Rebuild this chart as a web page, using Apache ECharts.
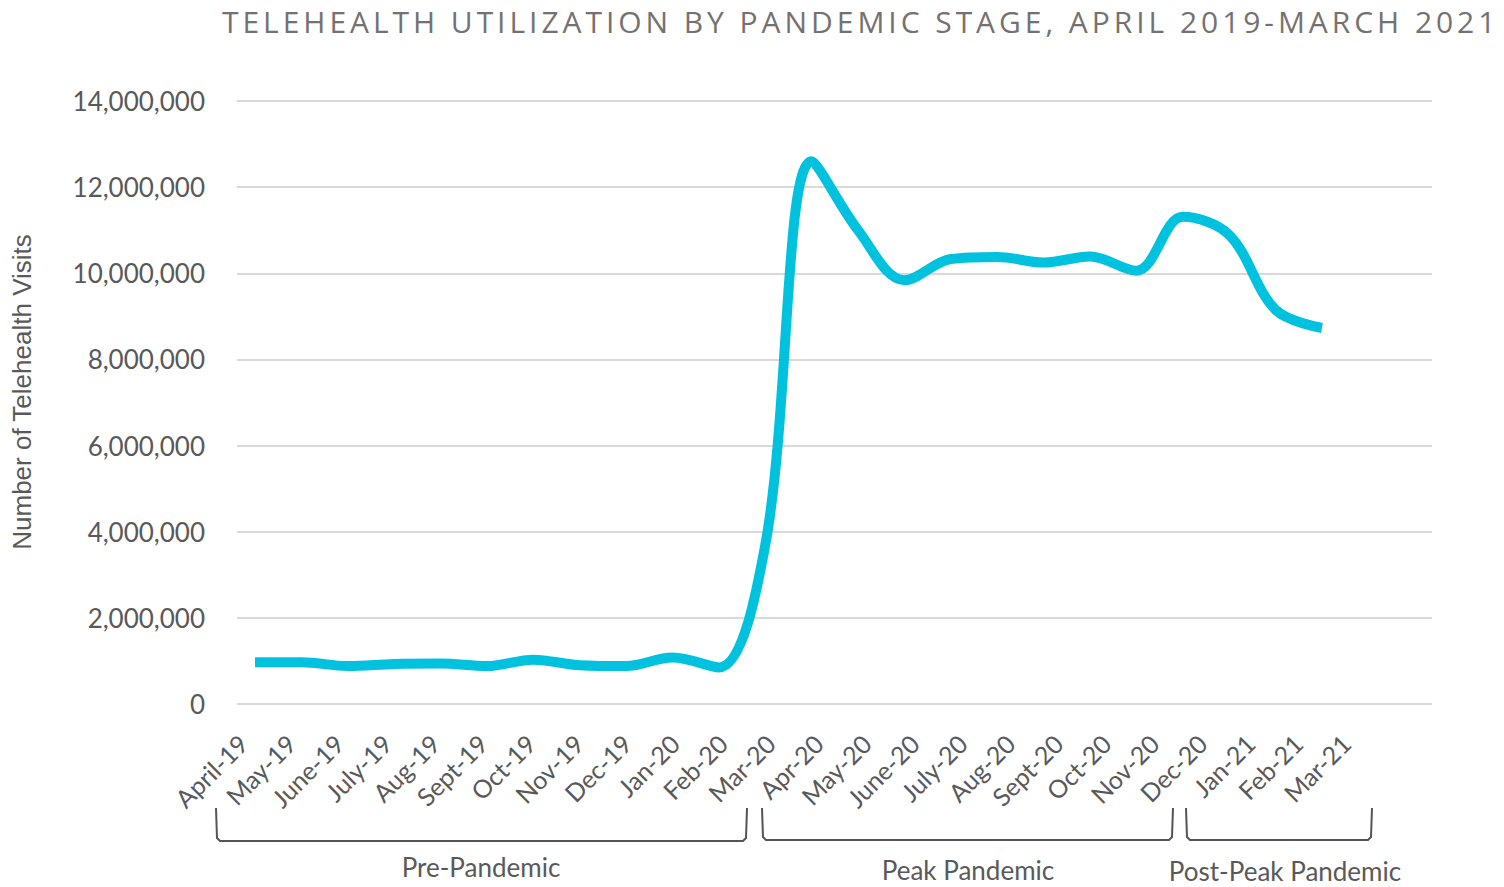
<!DOCTYPE html>
<html>
<head>
<meta charset="utf-8">
<title>Telehealth utilization</title>
<script src="https://cdn.jsdelivr.net/npm/echarts@6/dist/echarts.min.js"></script>
<style>
    html, body { margin: 0; padding: 0; background: #fff; }
    #chart_telehealth { width: 1504px; height: 887px; }
</style>
</head>
<body>
<div id="chart_telehealth"></div>
<script>
var months = ['April-19','May-19','June-19','July-19','Aug-19','Sept-19','Oct-19','Nov-19','Dec-19','Jan-20','Feb-20','Mar-20',
              'Apr-20','May-20','June-20','July-20','Aug-20','Sept-20','Oct-20','Nov-20','Dec-20','Jan-21','Feb-21','Mar-21'];
var visits = [970000, 970000, 880000, 930000, 940000, 880000, 1030000, 900000, 880000, 1080000, 850000, 3700000,
              12600000, 11000000, 9840000, 10330000, 10380000, 10250000, 10390000, 10060000, 11310000, 10890000, 9150000, 8730000];
var yMin = 0, yMax = 14000000, yStep = 2000000;
var stageNames = ['Pre-Pandemic', 'Peak Pandemic', 'Post-Peak Pandemic'];
var chartTitle = 'TELEHEALTH UTILIZATION BY PANDEMIC STAGE, APRIL 2019-MARCH 2021';

var FONT = 'Lato';
var GREY = '#595959';

// 千分位
function withCommas(v){
    var s = String(Math.round(v));
    return s.replace(/\B(?=(\d{3})+(?!\d))/g, ',');
}

// bracket under a group of months
function bracket(x1, x2, top, bottom){
    return {
        type: 'polyline',
        silent: true,
        shape: { points: [[x1, top], [x1 + 1, bottom - 3], [x1 + 4, bottom], [x2 - 4, bottom], [x2 - 1, bottom - 3], [x2, top]] },
        style: { stroke: '#555555', lineWidth: 2, fill: null }
    };
}

function stageText(txt, x, y){
    return {
        type: 'text', silent: true, x: x, y: y,
        style: { text: txt, fill: GREY, font: '26px ' + FONT, align: 'center', verticalAlign: 'middle' }
    };
}

// the title in the original is letter-spaced
function spaceTitle(){
    var nodes = document.querySelectorAll('#chart_telehealth svg text');
    for(var i=0;i<nodes.length;i++){
        if(nodes[i].textContent == chartTitle){
            nodes[i].setAttribute('letter-spacing', '3.95px');
        }
    }
}

var myChart = null;
function initChart(){
    myChart = echarts.init(document.getElementById('chart_telehealth'), null, { renderer: 'svg' });
    var option = {
        animation: false,
        backgroundColor: '#fff',
        title: {
            text: chartTitle,
            left: 217,
            top: 1,
            textStyle: { color: '#767171', fontFamily: 'Open Sans', fontSize: 30, fontWeight: 'normal' }
        },
        grid: [
            { left: 237, right: 72, top: 101, bottom: 183 },   // gridlines + y labels
            { left: 243, right: 158, top: 101, bottom: 183 },  // month labels
            { left: 255, right: 182, top: 101, bottom: 183 }   // data line
        ],
        xAxis: [
            { gridIndex: 0, type: 'category', data: months, show: false },
            {
                gridIndex: 1, type: 'category', data: months, boundaryGap: false,
                axisLine: { show: false }, axisTick: { show: false },
                axisLabel: { rotate: 45, margin: 35, interval: 0, color: GREY, fontFamily: FONT, fontSize: 25 }
            },
            { gridIndex: 2, type: 'category', data: months, boundaryGap: false, show: false }
        ],
        yAxis: [
            {
                gridIndex: 0, type: 'value', min: yMin, max: yMax, interval: yStep,
                axisLine: { show: false }, axisTick: { show: false },
                splitLine: { lineStyle: { color: '#d9d9d9', width: 2 } },
                axisLabel: { margin: 32, color: GREY, fontFamily: FONT, fontSize: 26, formatter: withCommas }
            },
            { gridIndex: 1, type: 'value', min: yMin, max: yMax, show: false },
            { gridIndex: 2, type: 'value', min: yMin, max: yMax, show: false }
        ],
        series: [
            {
                name: 'Telehealth Visits',
                type: 'line',
                xAxisIndex: 2,
                yAxisIndex: 2,
                data: visits,
                smooth: 0.35,
                symbol: 'none',
                lineStyle: { color: '#00c2df', width: 10, cap: 'butt' }
            }
        ],
        graphic: [
            {
                type: 'text', silent: true, x: 22, y: 392, rotation: Math.PI / 2,
                style: { text: 'Number of Telehealth Visits', fill: GREY, font: '26px "Liberation Sans"', align: 'center', verticalAlign: 'middle' }
            },
            bracket(216, 747, 808, 841),
            bracket(762, 1173, 808, 840),
            bracket(1186, 1372, 808, 840),
            stageText(stageNames[0], 481, 867),
            stageText(stageNames[1], 968, 870),
            stageText(stageNames[2], 1285, 871)
        ]
    };
    myChart.setOption(option);
    spaceTitle();
    myChart.on('finished', spaceTitle);
}

initChart();
</script>
</body>
</html>
